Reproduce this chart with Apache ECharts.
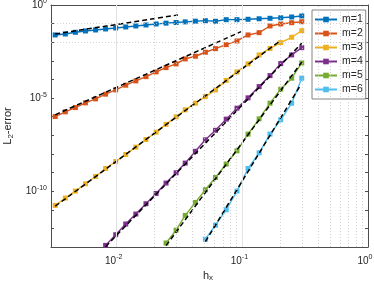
<!DOCTYPE html>
<html><head><meta charset="utf-8">
<script src="https://cdn.jsdelivr.net/npm/echarts@6/dist/echarts.min.js"></script>
<style>html,body{margin:0;padding:0;background:#fff}#c{width:374px;height:289px}</style>
</head><body><div id="c"></div>
<script>
// ---- data ----
const hx = [0.00324, 0.00390, 0.00469, 0.00564, 0.00679, 0.00816, 0.00982, 0.0118, 0.0142, 0.0171, 0.0206, 0.0247, 0.0297, 0.0351, 0.0423, 0.0508, 0.0611, 0.0744, 0.0906, 0.111, 0.136, 0.166, 0.202, 0.247, 0.297];
const err1 = [0.0246, 0.0278, 0.0343, 0.0403, 0.0456, 0.0516, 0.0584, 0.0661, 0.0747, 0.0845, 0.0957, 0.106, 0.115, 0.124, 0.135, 0.144, 0.134, 0.163, 0.163, 0.171, 0.182, 0.193, 0.206, 0.227, 0.257];
const err2 = [1.02e-6, 1.82e-6, 3.09e-6, 5.52e-6, 9.06e-6, 1.62e-5, 2.75e-5, 4.92e-5, 8.37e-5, 1.42e-4, 2.55e-4, 4.33e-4, 6.84e-4, 1.27e-3, 1.77e-3, 2.90e-3, 4.53e-3, 7.41e-3, 1.17e-2, 2.46e-2, 3.27e-2, 7.47e-2, 9.57e-2, 0.112, 0.127];
const err3 = [1.71e-11, 4.27e-11, 1.01e-10, 2.49e-10, 6.15e-10, 1.65e-9, 3.92e-9, 9.31e-9, 2.32e-8, 5.94e-8, 1.48e-7, 3.88e-7, 9.80e-7, 2.33e-6, 5.32e-6, 1.20e-5, 2.75e-5, 8.91e-5, 2.55e-4, 6.84e-4, 2.08e-3, 4.63e-3, 9.48e-3, 1.85e-2, 4.18e-2];
const err4 = [null, null, null, null, null, 1.22e-13, 4.58e-13, 1.72e-12, 5.90e-12, 2.11e-11, 7.53e-11, 2.72e-10, 9.70e-10, 3.22e-9, 1.38e-8, 5.73e-8, 1.85e-7, 7.38e-7, 2.87e-6, 1.03e-5, 4.14e-5, 1.61e-4, 7.10e-4, 2.08e-3, 5.12e-3];
const err5 = [null, null, null, null, null, null, null, null, null, null, null, 1.64e-13, 7.98e-13, 4.97e-12, 2.48e-11, 1.19e-10, 5.43e-10, 2.84e-9, 1.47e-8, 1.16e-7, 7.66e-7, 5.32e-6, 3.00e-5, 1.17e-4, 7.73e-4];
const err6 = [null, null, null, null, null, null, null, null, null, null, null, null, null, null, null, 2.63e-13, 1.48e-12, 1.00e-11, 1.01e-10, 1.65e-9, 1.15e-8, 1.16e-7, 6.76e-7, 5.32e-6, 1.17e-4];
const seriesNames = ['m=1', 'm=2', 'm=3', 'm=4', 'm=5', 'm=6'];
// reference (dashed) slope lines: [start, end]
const refH = [[0.00324, 0.0307], [0.00324, 0.0976], [0.00324, 0.198], [0.00816, 0.297], [0.0247, 0.297], [0.0508, 0.288]];
const refE = [[0.0278, 0.291], [1.26e-6, 0.0370], [1.55e-11, 1.13e-2], [1.04e-13, 8.81e-3], [1.18e-13, 8.5e-4], [1.93e-13, 4.52e-5]];
// axes / grid
const xMin = 0.003, xMax = 1, yMin = 1e-13, yMax = 1;
const xMajor = [0.01, 0.1];
const xMinor = [0.004, 0.005, 0.006, 0.007, 0.008, 0.009, 0.02, 0.03, 0.04, 0.05, 0.06, 0.07, 0.08, 0.09, 0.2, 0.3, 0.4, 0.5, 0.6, 0.7, 0.8, 0.9];
const yMajor = [1e-5, 1e-10];
const yMinor = [1e-1, 1e-2, 1e-3, 1e-4, 1e-6, 1e-7, 1e-8, 1e-9, 1e-11, 1e-12];
const yLabelEvery = 5;
const xName = ['h', 'x'];
const yName = ['L', '2', '-error'];

const colors = ['#0072BD', '#D95319', '#EDB120', '#7E2F8E', '#77AC30', '#4DBEEE'];
const FONT = 'Liberation Sans, Arial, Helvetica, sans-serif';
const TXT = '#262626';
const allErr = [err1, err2, err3, err4, err5, err6];

const chart = echarts.init(document.getElementById('c'), null, {renderer: 'canvas'});

function powLabel(v, every) {
  const l = Math.log10(v), e = Math.round(l);
  if (Math.abs(l - e) > 1e-6) return '';
  if (every && e % every !== 0) return '';
  return '{b|10}{s|' + e + '}';
}
const richX = {
  b: {fontSize: 10, fontFamily: FONT, color: TXT},
  s: {fontSize: 7, fontFamily: FONT, color: TXT, padding: [0, 6, 7, 0]}
};
const richY = {
  b: {fontSize: 10, fontFamily: FONT, color: TXT},
  s: {fontSize: 7, fontFamily: FONT, color: TXT, padding: [0, 0, 7, 0]}
};

const series = [];
// helper series for grid lines (behind data)
series.push({
  type: 'line', data: [], z: 1, silent: true,
  markLine: {
    silent: true, symbol: 'none', animation: false, label: {show: false},
    data: [
      ...xMinor.map(v => ({xAxis: v, lineStyle: {color: '#c8c8c8', type: [1, 2], width: 0.8}})),
      ...yMinor.map(v => ({yAxis: v, lineStyle: {color: '#c8c8c8', type: [1, 2], width: 0.8}})),
      ...xMajor.map(v => ({xAxis: v, lineStyle: {color: '#e3e3e3', type: 'solid', width: 1}})),
      ...yMajor.map(v => ({yAxis: v, lineStyle: {color: '#e3e3e3', type: 'solid', width: 1}}))
    ]
  }
});
allErr.forEach((arr, k) => {
  series.push({
    name: seriesNames[k], type: 'line', z: 3,
    data: hx.map((h, i) => [h, arr[i]]).filter(p => p[1] != null),
    symbol: 'rect', symbolSize: 5,
    lineStyle: {color: colors[k], width: 1.4},
    itemStyle: {color: colors[k]},
    animation: false
  });
});
refH.forEach((hs, k) => {
  series.push({
    type: 'line', z: 4, silent: true, symbol: 'none',
    data: [[hs[0], refE[k][0]], [hs[1], refE[k][1]]],
    lineStyle: {color: '#000', width: 1.5, type: [5, 3]},
    animation: false
  });
});

chart.setOption({
  backgroundColor: '#fff',
  animation: false,
  textStyle: {fontFamily: FONT},
  grid: {left: 51, top: 5, right: 6, bottom: 42, containLabel: false, outerBoundsMode: 'none'},
  legend: {
    data: seriesNames,
    orient: 'vertical', left: 312, top: 10,
    itemWidth: 22, itemHeight: 7, itemGap: 3,
    backgroundColor: '#fff', borderColor: '#666', borderWidth: 0.8,
    padding: [4, 3, 4, 2],
    textStyle: {fontSize: 10.5, lineHeight: 10, color: TXT, fontFamily: FONT}
  },
  graphic: [{
    type: 'text', left: 203, top: 270, silent: true,
    style: {
      text: '{a|' + xName[0] + '}{s|' + xName[1] + '}',
      rich: {a: {fontSize: 11, fontFamily: FONT, fill: TXT, color: TXT}, s: {fontSize: 8, fontFamily: FONT, fill: TXT, color: TXT, padding: [5, 0, 0, 0]}}
    }
  }],
  xAxis: [{
    type: 'log', min: xMin, max: xMax, logBase: 10,
    axisLine: {lineStyle: {color: '#4d4d4d', width: 1}},
    axisTick: {inside: true, length: 3, lineStyle: {color: '#4d4d4d'}},
    axisLabel: {formatter: v => powLabel(v), rich: richX, margin: 7, showMinLabel: true, showMaxLabel: true},
    splitLine: {show: false}
  }, {
    type: 'log', min: xMin, max: xMax, logBase: 10, position: 'top',
    axisLine: {lineStyle: {color: '#4d4d4d', width: 1}},
    axisTick: {inside: true, length: 3, lineStyle: {color: '#4d4d4d'}},
    axisLabel: {show: false}, splitLine: {show: false}
  }],
  yAxis: [{
    type: 'log', min: yMin, max: yMax, logBase: 10, interval: 1,
    name: '{a|' + yName[0] + '}{s|' + yName[1] + '}{a|' + yName[2] + '}', nameLocation: 'middle', nameGap: 34, nameRotate: 90,
    nameTextStyle: {rich: {a: {fontSize: 11, fontFamily: FONT, color: TXT}, s: {fontSize: 8, fontFamily: FONT, color: TXT, padding: [5, 0, 0, 0]}}},
    axisLine: {lineStyle: {color: '#4d4d4d', width: 1}},
    axisTick: {inside: true, length: 3, lineStyle: {color: '#4d4d4d'}},
    axisLabel: {formatter: v => powLabel(v, yLabelEvery), rich: richY, margin: 4},
    splitLine: {show: false}
  }, {
    type: 'log', min: yMin, max: yMax, logBase: 10, interval: 1, position: 'right',
    axisLine: {lineStyle: {color: '#4d4d4d', width: 1}},
    axisTick: {inside: true, length: 3, lineStyle: {color: '#4d4d4d'}},
    axisLabel: {show: false}, splitLine: {show: false}
  }],
  series: series
});
</script></body></html>
